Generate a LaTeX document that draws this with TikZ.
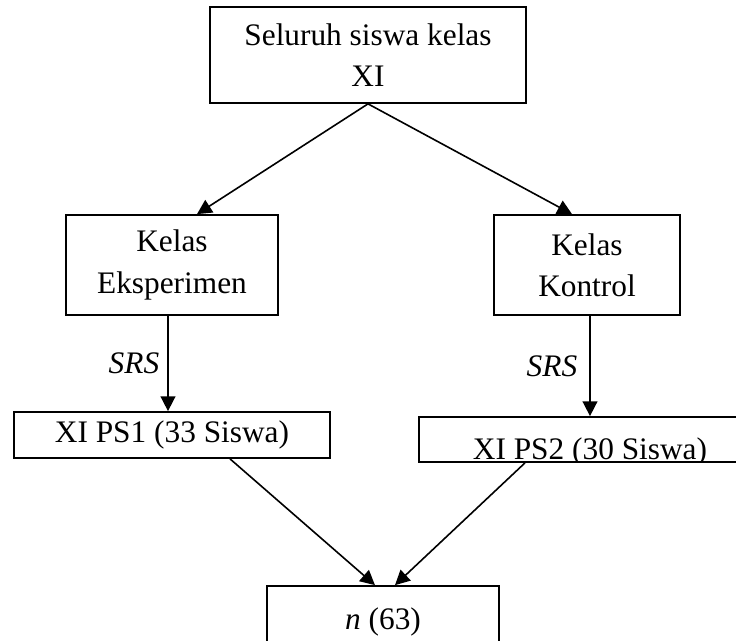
\documentclass[tikz,border=0pt]{standalone}
\usepackage{fontspec}
\setmainfont{Liberation Serif}
\usetikzlibrary{arrows.meta}

\tikzset{
  kotak/.style={draw, line width=1.3pt, rectangle, align=center, inner sep=0pt,
                font=\fontsize{23.5}{31}\selectfont},
  panah/.style={line width=1.2pt, -{Triangle[length=11pt, width=11pt]}}
}

\begin{document}
\begin{tikzpicture}[x=0.75pt, y=-0.75pt]

% --- batas gambar ---
\clip (0,0) rectangle (736,641);

% --- Populasi ---
\node[kotak, minimum width=237pt, minimum height=72pt] (pop) at (368,55) {Seluruh siswa kelas\\XI};

% --- Kelas ---
\node[kotak, minimum width=159pt, minimum height=75pt] (eks) at (172,265) {Kelas\\Eksperimen};
\node[kotak, minimum width=139.5pt, minimum height=75pt] (kon) at (587,265) {Kelas\\Kontrol};

\draw[panah] (pop.south) -- ([xshift=18.75pt]eks.north);
\draw[panah] (pop.south) -- ([xshift=-11.25pt]kon.north);

% --- Sampel ---
\node[kotak, minimum width=237pt, minimum height=34.5pt] (ps1) at (172,435) {XI PS1 (33 Siswa)};
\node[kotak, minimum width=256.5pt, minimum height=33.75pt] (ps2) at (590,439.5) {};
\begin{scope}
  \clip (ps2.south west) rectangle (ps2.north east);
  \node[kotak, draw=none] (ps2txt) at (590,452) {XI PS2 (30 Siswa)};
\end{scope}

\draw[panah] ([xshift=-3pt]eks.south) -- node[left, inner sep=6pt, font=\fontsize{23.5}{31}\selectfont\itshape] {SRS} ([xshift=-3pt]ps1.north);
\draw[panah] ([xshift=2.25pt]kon.south) -- node[left, inner sep=9pt, font=\fontsize{23.5}{31}\selectfont\itshape] {SRS} (ps2.north);

% --- Jumlah sampel ---
\node[kotak, minimum width=174pt, minimum height=54pt] (sam) at (383,622) {\textit{n} (63)};

\draw[panah] ([xshift=43.5pt]ps1.south) -- ([xshift=-6pt]sam.north);
\draw[panah] ([xshift=-48.75pt]ps2.south) -- ([xshift=9pt]sam.north);

\end{tikzpicture}
\end{document}
